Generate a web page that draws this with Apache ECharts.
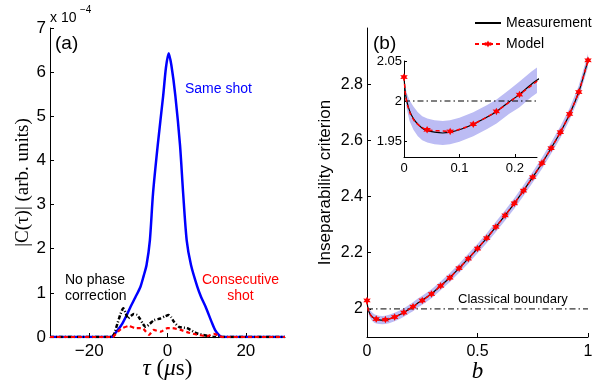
<!DOCTYPE html>
<html><head><meta charset="utf-8">
<script src="https://cdn.jsdelivr.net/npm/echarts@6/dist/echarts.min.js"></script>
<style>html,body{margin:0;padding:0;background:#fff}#c{width:592px;height:386px}</style>
</head><body><div id="c"></div><script>
// ---- Panel (a) data (units of 1e-4) ----
const tauSame = [-30,-14.5,-13.7,-12.5,-11.5,-10.5,-9.4,-8.2,-6.9,-6.1,-5.35,-4.5,-3.7,-2.5,-1.1,-0.4,0.3,1.0,2.0,3.2,4.0,4.9,6.0,7.6,8.6,9.7,11.4,12.2,13.1,14,30];
const sameShot = [0,0,0.05,0.18,0.31,0.48,0.69,0.9,1.14,1.38,1.63,2.19,3.25,4.34,5.47,6.1,6.43,6.15,5.47,4.34,3.25,2.19,1.63,1.14,0.9,0.69,0.31,0.15,0.05,0,0];
const tauNoPhase = [-30,-14.3,-13.7,-12.8,-12.0,-11.3,-10.7,-10.1,-9.3,-8.6,-7.8,-7.1,-6.3,-5.6,-4.5,-3.5,-1.8,-0.6,0.3,1.0,1.6,2.9,5.0,7.6,10.1,12,30];
const noPhase = [0,0,0.05,0.3,0.52,0.65,0.55,0.42,0.48,0.52,0.5,0.42,0.3,0.23,0.3,0.38,0.42,0.47,0.5,0.44,0.35,0.23,0.2,0.08,0.03,0,0];
const tauConsec = [-30,-14,-13.2,-12.3,-11.5,-9.9,-8.2,-6.4,-5.5,-4.7,-3.5,-1.8,0,1.2,3.3,5.4,7.6,10.1,11.8,13.1,14,30];
const consecutive = [0,0,0.07,0.15,0.2,0.25,0.2,0.2,0.12,0.05,0.16,0.12,0.2,0.2,0.16,0.1,0.05,0.02,0.07,0.03,0,0];
const tauTicks = [-20,0,20];

// ---- Panel (b) data ----
const bMeas = [0,0.002,0.005,0.01,0.017,0.025,0.033,0.042,0.055,0.07,0.083,0.1,0.125,0.15,0.167,0.19,0.208,0.23,0.25,0.292,0.333,0.375,0.417,0.458,0.5,0.542,0.583,0.625,0.667,0.708,0.75,0.792,0.833,0.875,0.917,0.958,1];
const measurement = [2.03,2.013,2.0,1.988,1.978,1.971,1.966,1.963,1.961,1.960,1.961,1.964,1.971,1.980,1.987,1.999,2.008,2.021,2.031,2.054,2.082,2.112,2.145,2.179,2.215,2.252,2.292,2.333,2.376,2.421,2.469,2.519,2.572,2.629,2.694,2.772,2.885];
const bandLow = [2.03,2.007,1.99,1.975,1.964,1.956,1.951,1.948,1.946,1.945,1.946,1.949,1.956,1.965,1.972,1.984,1.992,2.005,2.015,2.038,2.066,2.096,2.129,2.162,2.198,2.235,2.274,2.315,2.357,2.402,2.45,2.499,2.552,2.608,2.673,2.75,2.862];
const bandHigh = [2.03,2.019,2.01,2.001,1.993,1.986,1.981,1.978,1.976,1.975,1.976,1.979,1.986,1.995,2.002,2.014,2.024,2.037,2.047,2.07,2.098,2.128,2.161,2.196,2.232,2.269,2.31,2.351,2.395,2.44,2.488,2.539,2.592,2.65,2.715,2.794,2.908];
const bModel = [0,0.003,0.007,0.012,0.02,0.03,0.0417,0.0833,0.125,0.1667,0.2083,0.25,0.2917,0.3333,0.375,0.4167,0.4583,0.5,0.5417,0.5833,0.625,0.6667,0.7083,0.75,0.7917,0.8333,0.875,0.9167,0.9583,1];
const model = [2.03,2.006,1.993,1.983,1.974,1.968,1.964,1.962,1.971,1.987,2.008,2.03,2.053,2.082,2.111,2.145,2.179,2.215,2.252,2.292,2.333,2.376,2.421,2.469,2.519,2.572,2.629,2.694,2.772,2.885];
const bStars = [0,0.0417,0.0833,0.125,0.1667,0.2083,0.25,0.2917,0.3333,0.375,0.4167,0.4583,0.5,0.5417,0.5833,0.625,0.6667,0.7083,0.75,0.7917,0.8333,0.875,0.9167,0.9583,1];
const boundaryB = [0,1];
const boundaryVal = [2,2];
const bTicks = [0,0.5,1];
const critTicks = [2,2.2,2.4,2.6,2.8];
const bTicksInset = [0,0.1,0.2];
const critTicksInset = [1.95,2,2.05];

const SANS = 'Liberation Sans';
const SERIF = 'Liberation Serif';
const pairs = (xs, ys) => xs.map((x, i) => [x, ys[i]]);
const isStar = v => bStars.some(s => Math.abs(s - v[0]) < 1e-3);
const STAR = 'path://M0,-10L2.6,-4.5L8.7,-5L5.2,0L8.7,5L2.6,4.5L0,10L-2.6,4.5L-8.7,5L-5.2,0L-8.7,-5L-2.6,-4.5Z';
const minusFmt = v => String(v).replace('-', '\u2212');

function axisBase(extra) {
  return Object.assign({
    type: 'value',
    nameMoveOverlap: false,
    splitLine: {show: false},
    axisLine: {show: true, onZero: false, lineStyle: {color: '#000', width: 1}},
    axisTick: {show: true, inside: true, length: 4, lineStyle: {color: '#000'}},
    axisLabel: {color: '#000', fontFamily: SANS, fontSize: 16}
  }, extra);
}

function bandSeries(xi, yi) {
  return {
    type: 'custom', name: 'band', xAxisIndex: xi, yAxisIndex: yi, z: 1, silent: true,
    data: [[0, 2]],
    renderItem: (params, api) => {
      const pts = [];
      for (let i = 0; i < bMeas.length; i++) pts.push(api.coord([bMeas[i], bandHigh[i]]));
      for (let i = bMeas.length - 1; i >= 0; i--) pts.push(api.coord([bMeas[i], bandLow[i]]));
      const cs = params.coordSys;
      return {
        type: 'polygon', shape: {points: pts}, style: {fill: '#bcbcf4'},
        clipPath: {type: 'rect', shape: {x: cs.x, y: cs.y, width: cs.width, height: cs.height}}
      };
    }
  };
}
function bSeries(xi, yi) {
  return [
    bandSeries(xi, yi),
    {type: 'line', name: 'boundary', xAxisIndex: xi, yAxisIndex: yi, symbol: 'none',
     lineStyle: {color: '#000', width: 1, type: [6, 3, 1.5, 3]}, data: pairs(boundaryB, boundaryVal), z: 2},
    {type: 'line', name: 'Measurement', xAxisIndex: xi, yAxisIndex: yi, symbol: 'none', smooth: 0.2,
     lineStyle: {color: '#000', width: 1.2}, itemStyle: {color: '#000'}, data: pairs(bMeas, measurement), z: 3},
    {type: 'line', name: 'Model', xAxisIndex: xi, yAxisIndex: yi, symbol: STAR,
     symbolSize: v => isStar(v) ? 7.5 : 0, smooth: 0.2,
     lineStyle: {color: '#ff0000', width: 1.5, type: [4, 3]}, itemStyle: {color: '#ff0000'},
     data: pairs(bModel, model), z: 4}
  ];
}

const option = {
  animation: false,
  backgroundColor: '#fff',
  grid: [
    {left: 50, top: 28, width: 235, height: 309, outerBoundsMode: 'none'},
    {left: 367, top: 28, width: 221, height: 309, outerBoundsMode: 'none'},
    {left: 404, top: 61, width: 133, height: 96, outerBoundsMode: 'none'}
  ],
  xAxis: [
    axisBase({gridIndex: 0, min: -30, max: 30,
      axisLabel: {color: '#000', fontFamily: SANS, fontSize: 17, margin: 6, customValues: tauTicks, formatter: minusFmt},
      axisTick: {show: true, inside: true, length: 4, lineStyle: {color: '#000'}, customValues: tauTicks},
      name: '{i|τ} ({i|μ}s)', nameLocation: 'middle', nameGap: 20,
      nameTextStyle: {fontFamily: SERIF, fontSize: 23, color: '#000',
        rich: {i: {fontFamily: SERIF, fontSize: 23, fontStyle: 'italic', color: '#000'}}}}),
    axisBase({gridIndex: 1, min: 0, max: 1,
      axisLabel: {color: '#000', fontFamily: SANS, fontSize: 16, margin: 7, customValues: bTicks},
      axisTick: {show: true, inside: true, length: 4, lineStyle: {color: '#000'}, customValues: bTicks},
      name: 'b', nameLocation: 'middle', nameGap: 23,
      nameTextStyle: {fontFamily: SERIF, fontSize: 23, fontStyle: 'italic', color: '#000'}}),
    axisBase({gridIndex: 2, min: 0, max: 0.24,
      axisLabel: {color: '#000', fontFamily: SANS, fontSize: 13, margin: 5, customValues: bTicksInset},
      axisTick: {show: true, inside: true, length: 3, lineStyle: {color: '#000'}, customValues: bTicksInset}})
  ],
  yAxis: [
    axisBase({gridIndex: 0, min: 0, max: 7, interval: 1,
      axisLabel: {color: '#000', fontFamily: SANS, fontSize: 17, margin: 4},
      name: '|C(τ)| (arb. units)', nameLocation: 'middle', nameGap: 17,
      nameTextStyle: {fontFamily: SERIF, fontSize: 19, color: '#000'}}),
    axisBase({gridIndex: 1, min: 1.9, max: 3,
      axisLabel: {color: '#000', fontFamily: SANS, fontSize: 16, margin: 4, customValues: critTicks},
      axisTick: {show: true, inside: true, length: 4, lineStyle: {color: '#000'}, customValues: critTicks},
      name: 'Inseparability criterion', nameLocation: 'middle', nameGap: 33,
      nameTextStyle: {fontFamily: SANS, fontSize: 17, color: '#000'}}),
    axisBase({gridIndex: 2, min: 1.93, max: 2.05,
      axisLabel: {color: '#000', fontFamily: SANS, fontSize: 13, margin: 2, customValues: critTicksInset},
      axisTick: {show: true, inside: true, length: 3, lineStyle: {color: '#000'}, customValues: critTicksInset}})
  ],
  legend: {
    orient: 'vertical', left: 474, top: 16, padding: 0, itemWidth: 26, itemHeight: 9, itemGap: 7,
    data: [{name: 'Measurement', itemStyle: {opacity: 0}}, {name: 'Model'}],
    textStyle: {fontFamily: SANS, fontSize: 14, color: '#000'}
  },
  series: [
    {type: 'line', name: 'Same shot', xAxisIndex: 0, yAxisIndex: 0, symbol: 'none', smooth: 0.25,
     lineStyle: {color: '#0000ff', width: 2.5}, data: pairs(tauSame, sameShot), z: 2},
    {type: 'line', name: 'No phase correction', xAxisIndex: 0, yAxisIndex: 0, symbol: 'none', smooth: 0.2,
     lineStyle: {color: '#000', width: 2.5, type: [4, 2, 1, 2]}, data: pairs(tauNoPhase, noPhase), z: 3},
    {type: 'line', name: 'Consecutive shot', xAxisIndex: 0, yAxisIndex: 0, symbol: 'none', smooth: 0.2,
     lineStyle: {color: '#ff0000', width: 2.2, type: [4, 3]}, data: pairs(tauConsec, consecutive), z: 4}
  ].concat(bSeries(1, 1), bSeries(2, 2)),
  graphic: [
    {type: 'text', x: 50, y: 18.5, style: {text: 'x 10', font: '14px ' + SANS, fill: '#000', verticalAlign: 'middle'}},
    {type: 'text', x: 80, y: 10, style: {text: '\u22124', font: '10px ' + SANS, fill: '#000', verticalAlign: 'middle'}},
    {type: 'text', x: 55, y: 43.5, style: {text: '(a)', font: '19px ' + SANS, fill: '#000', verticalAlign: 'middle'}},
    {type: 'text', x: 373, y: 43.5, style: {text: '(b)', font: '19px ' + SANS, fill: '#000', verticalAlign: 'middle'}},
    {type: 'text', x: 185, y: 89, style: {text: 'Same shot', font: '14px ' + SANS, fill: '#0000ff', verticalAlign: 'middle'}},
    {type: 'text', x: 65, y: 280, style: {text: 'No phase', font: '14px ' + SANS, fill: '#000', verticalAlign: 'middle'}},
    {type: 'text', x: 65, y: 296, style: {text: 'correction', font: '14px ' + SANS, fill: '#000', verticalAlign: 'middle'}},
    {type: 'text', x: 240.5, y: 280, style: {text: 'Consecutive', font: '14px ' + SANS, fill: '#ff0000', align: 'center', verticalAlign: 'middle'}},
    {type: 'text', x: 240.5, y: 296, style: {text: 'shot', font: '14px ' + SANS, fill: '#ff0000', align: 'center', verticalAlign: 'middle'}},
    {type: 'text', x: 458, y: 299, style: {text: 'Classical boundary', font: '13px ' + SANS, fill: '#000', verticalAlign: 'middle'}}
  ]
};
const chart = echarts.init(document.getElementById('c'), null, {renderer: 'canvas'});
chart.setOption(option);
</script></body></html>
